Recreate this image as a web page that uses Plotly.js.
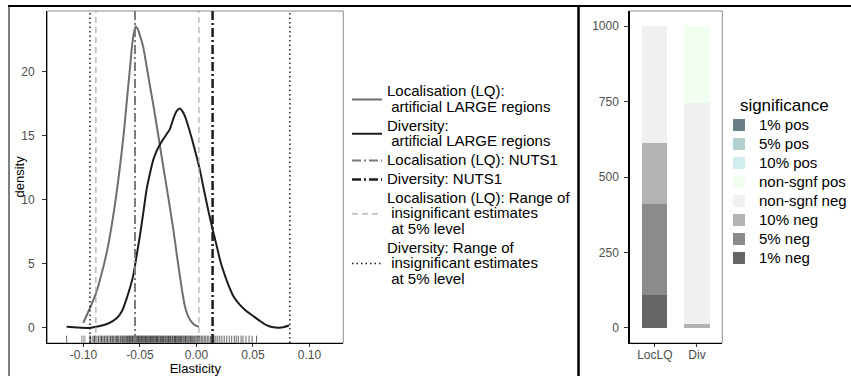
<!DOCTYPE html>
<html><head><meta charset="utf-8">
<script src="https://cdn.plot.ly/plotly-3.0.1.min.js"></script>
<style>html,body{margin:0;padding:0;background:#fff;}</style>
</head><body><div id="chart" style="width:851px;height:376px;"></div>
<script>
// ---- density of elasticities ----
const locX = [-0.1002,-0.0950,-0.0889,-0.0840,-0.0789,-0.0750,-0.0715,-0.0685,-0.0659,-0.0636,-0.0615,-0.0593,-0.0573,-0.0556,-0.0538,-0.0520,-0.0500,-0.0471,-0.0441,-0.0410,-0.0382,-0.0352,-0.0323,-0.0294,-0.0264,-0.0235,-0.0205,-0.0175,-0.0146,-0.0125,-0.0102,-0.0075,-0.0042,-0.0010,0.0022];
const locY = [0.4,1.4,2.7,4.2,6.1,8.0,10.0,12.0,13.9,15.8,17.8,19.8,21.7,22.9,23.5,23.3,22.8,21.9,20.4,18.8,17.4,15.8,14.2,12.6,11.0,9.4,7.7,5.8,4.0,2.8,1.7,0.95,0.45,0.2,0.1];
const divX = [-0.1149,-0.1050,-0.0950,-0.0854,-0.0780,-0.0706,-0.0660,-0.0633,-0.0596,-0.0559,-0.0530,-0.0500,-0.0470,-0.0441,-0.0410,-0.0382,-0.0352,-0.0323,-0.0294,-0.0264,-0.0235,-0.0205,-0.0175,-0.0146,-0.0125,-0.0102,-0.0072,-0.0042,0.0000,0.0031,0.0068,0.0104,0.0143,0.0179,0.0215,0.0252,0.0290,0.0326,0.0385,0.0444,0.0500,0.0562,0.0620,0.0680,0.0750,0.0821];
const divY = [0.1,0.03,0.0,0.15,0.35,0.75,1.3,1.9,2.9,4.1,5.6,7.2,9.0,10.8,12.1,13.1,13.8,14.3,14.7,15.1,15.5,16.3,16.9,17.1,16.9,16.5,15.7,14.8,13.4,12.3,10.7,9.2,7.7,6.4,5.1,4.1,3.2,2.5,1.8,1.3,0.95,0.55,0.22,0.05,0.03,0.2];

// rug values (estimated from the rug band)
const locRug = [-0.1016,-0.1002,-0.0987,-0.0942,-0.0935,-0.0921,-0.0912,-0.0903,-0.0894,-0.0885,-0.0871,-0.0862,-0.0850,-0.0843,-0.0831,-0.0822,-0.0810,-0.0801,-0.0793,-0.0782,-0.0774,-0.0765,-0.0751,-0.0744,-0.0735,-0.0726,-0.0714,-0.0706,-0.0698,-0.0689,-0.0677,-0.0668,-0.0659,-0.0651,-0.0642,-0.0633,-0.0625,-0.0616,-0.0608,-0.0601,-0.0593,-0.0585,-0.0577,-0.0570,-0.0563,-0.0556,-0.0549,-0.0542,-0.0535,-0.0528,-0.0521,-0.0514,-0.0507,-0.0499,-0.0491,-0.0483,-0.0475,-0.0466,-0.0457,-0.0448,-0.0439,-0.0430,-0.0420,-0.0410,-0.0400,-0.0389,-0.0378,-0.0367,-0.0355,-0.0343,-0.0331,-0.0318,-0.0305,-0.0291,-0.0276,-0.0261,-0.0246,-0.0230,-0.0213,-0.0196,-0.0185,-0.0172,-0.0160,-0.0147,-0.0131,-0.0112,-0.0095,-0.0074,-0.0048,-0.0031,0.0008,0.0026];
const divRug = [-0.1149,-0.0942,-0.0901,-0.0868,-0.0840,-0.0812,-0.0788,-0.0761,-0.0739,-0.0712,-0.0695,-0.0674,-0.0656,-0.0641,-0.0623,-0.0608,-0.0594,-0.0580,-0.0566,-0.0551,-0.0539,-0.0526,-0.0512,-0.0500,-0.0488,-0.0475,-0.0463,-0.0451,-0.0440,-0.0429,-0.0418,-0.0407,-0.0396,-0.0385,-0.0375,-0.0364,-0.0353,-0.0343,-0.0332,-0.0321,-0.0311,-0.0300,-0.0290,-0.0279,-0.0269,-0.0258,-0.0248,-0.0237,-0.0227,-0.0216,-0.0206,-0.0195,-0.0184,-0.0174,-0.0163,-0.0152,-0.0141,-0.0130,-0.0119,-0.0108,-0.0097,-0.0086,-0.0075,-0.0064,-0.0053,-0.0041,-0.0030,-0.0018,-0.0006,0.0006,0.0018,0.0030,0.0043,0.0056,0.0069,0.0082,0.0096,0.0110,0.0125,0.0140,0.0156,0.0172,0.0189,0.0207,0.0226,0.0246,0.0268,0.0290,0.0312,0.0335,0.0352,0.0371,0.0395,0.0412,0.0438,0.0466,0.0493,0.0532];

// reference lines
const locNuts1 = -0.0544;
const divNuts1 = 0.0143;
const locRange = [-0.0890, 0.0022];
const divRange = [-0.0942, 0.0827];

const seriesNames = [
  'Localisation (LQ):<br>\u00a0artificial LARGE regions',
  'Diversity:<br>\u00a0artificial LARGE regions',
  'Localisation (LQ): NUTS1',
  'Diversity: NUTS1',
  'Localisation (LQ): Range of<br>\u00a0insignificant estimates<br>\u00a0at 5% level',
  'Diversity: Range of<br>\u00a0insignificant estimates<br>\u00a0at 5% level'
];

// ---- significance counts ----
const barCats = ['LocLQ', 'Div'];
const sigLevels = ['1% neg','5% neg','10% neg','non-sgnf neg','non-sgnf pos','10% pos','5% pos','1% pos'];
const locCounts = [110, 300, 203, 387, 0, 0, 0, 0];
const divCounts = [0, 0, 13, 732, 255, 0, 0, 0];
const sigColors = ['#666666','#8b8b8b','#b3b3b3','#f0f0f0','#f0fff0','#d1eeee','#b4cfcf','#6c7f88'];

const X1RANGE = [-0.132, 0.130];
const Y1RANGE = [-1.17, 24.7];
const FONT = 'Liberation Sans, Arial, sans-serif';

function big(t, sz){ return t.split('<br>').map(s => '<span style="font-size:'+sz+'px">'+s+'</span>').join('<br>'); }
function vline(xs){ const X=[],Y=[]; xs.forEach((v,i)=>{ if(i) {X.push(null);Y.push(null);} X.push(v,v); Y.push(Y1RANGE[0],Y1RANGE[1]); }); return {x:X,y:Y}; }

const traces = [];
// rugs
traces.push({type:'scatter', mode:'markers', x:locRug, y:locRug.map(()=>Y1RANGE[0]+0.3), xaxis:'x', yaxis:'y',
  marker:{symbol:'line-ns-open', size:5, color:'rgba(110,110,110,0.7)', line:{width:1}}, showlegend:false, hoverinfo:'skip'});
traces.push({type:'scatter', mode:'markers', x:divRug, y:divRug.map(()=>Y1RANGE[0]+0.3), xaxis:'x', yaxis:'y',
  marker:{symbol:'line-ns-open', size:5, color:'rgba(20,20,20,0.65)', line:{width:1}}, showlegend:false, hoverinfo:'skip'});
// curves
traces.push({type:'scatter', mode:'lines', x:locX, y:locY, name:big(seriesNames[0],15), legend:'legend',
  line:{color:'#6e6e6e', width:2, shape:'spline', smoothing:0.6}});
traces.push({type:'scatter', mode:'lines', x:divX, y:divY, name:big(seriesNames[1],15), legend:'legend',
  line:{color:'#1c1c1c', width:2, shape:'spline', smoothing:0.6}});
let v;
v = vline([locNuts1]);
traces.push({type:'scatter', mode:'lines', x:v.x, y:v.y, name:big(seriesNames[2],15), legend:'legend',
  line:{color:'#7a7a7a', width:2, dash:'9px,3px,2px,3px'}});
v = vline([divNuts1]);
traces.push({type:'scatter', mode:'lines', x:v.x, y:v.y, name:big(seriesNames[3],15), legend:'legend',
  line:{color:'#1c1c1c', width:2.5, dash:'9px,3px,2px,3px'}});
v = vline(locRange);
traces.push({type:'scatter', mode:'lines', x:v.x, y:v.y, name:big(seriesNames[4],15), legend:'legend',
  line:{color:'#aaaaaa', width:1.2, dash:'6px,4px'}});
v = vline(divRange);
traces.push({type:'scatter', mode:'lines', x:v.x, y:v.y, name:big(seriesNames[5],15), legend:'legend',
  line:{color:'#1c1c1c', width:1.5, dash:'1.5px,3px'}});
// bars
sigLevels.forEach((lev,i)=>{
  traces.push({type:'bar', x:barCats, y:[locCounts[i], divCounts[i]], name:big(lev,15), width:0.6,
    marker:{color:sigColors[i], line:{width:0}}, xaxis:'x2', yaxis:'y2', legend:'legend2'});
});

const W=851, H=376;
const yDom = [1-343/H, 1-11/H];
const axisCommon = {showgrid:false, zeroline:false, showline:true, linecolor:'#000', linewidth:1.2,
  ticks:'outside', ticklen:4, tickcolor:'#333', tickwidth:1, tickfont:{family:FONT, size:12, color:'#4d4d4d'}};

const layout = {
  width:W, height:H, margin:{l:0,r:0,t:0,b:0, autoexpand:false},
  paper_bgcolor:'#fff', plot_bgcolor:'#fff', barmode:'stack', bargap:0,
  font:{family:FONT, color:'#000'},
  xaxis:Object.assign({}, axisCommon, {domain:[47.3/W, 343.3/W], range:X1RANGE, anchor:'y', ticklen:3, ticklabelstandoff:-3,
    automargin:true,
    tickvals:[-0.10,-0.05,0,0.05,0.10], ticktext:['-0.10','-0.05','0.00','0.05','0.10'],
    title:{text:'Elasticity', font:{family:FONT, size:13, color:'#000'}, standoff:2}}),
  yaxis:Object.assign({}, axisCommon, {domain:yDom, range:Y1RANGE, anchor:'x', ticklabelstandoff:5,
    tickvals:[0,5,10,15,20]}),
  xaxis2:Object.assign({}, axisCommon, {domain:[629.5/W, 722.3/W], range:[-0.6,1.6], anchor:'y2', type:'category', ticklen:3, ticklabelstandoff:-3}),
  yaxis2:Object.assign({}, axisCommon, {domain:yDom, range:[-50,1050], anchor:'x2', ticklabelstandoff:3, tickvals:[0,250,500,750,1000]}),
  annotations:[
    {text:'density', xref:'paper', yref:'paper', x:18.5/W, y:1-177/H, xanchor:'center', yanchor:'middle',
     textangle:-90, showarrow:false, font:{family:FONT, size:13, color:'#000'}}
  ],
  legend:{x:347/W, xanchor:'left', y:1-186/H, yanchor:'middle', bgcolor:'rgba(0,0,0,0)',
    font:{family:FONT, size:12, color:'#000'}, traceorder:'normal', tracegroupgap:0},
  legend2:{x:719/W, xanchor:'left', y:1-181/H, yanchor:'middle', bgcolor:'rgba(0,0,0,0)',
    font:{family:FONT, size:12, color:'#000'}, traceorder:'reversed',
    title:{text:'\u00a0\u00a0\u00a0\u00a0significance', font:{family:FONT, size:17, color:'#000'}}},
  shapes:[
    {type:'rect', xref:'x domain', yref:'y domain', x0:0, x1:1, y0:0, y1:1, line:{color:'#8c8c8c', width:1}, layer:'below'},
    {type:'rect', xref:'x2 domain', yref:'y2 domain', x0:0, x1:1, y0:0, y1:1, line:{color:'#8c8c8c', width:1}, layer:'below'},
    {type:'line', xref:'paper', yref:'paper', x0:8/W, x1:1, y0:1-6/H, y1:1-6/H, line:{color:'#000', width:2}},
    {type:'line', xref:'paper', yref:'paper', x0:9/W, x1:9/W, y0:0, y1:1-6/H, line:{color:'#000', width:1}},
    {type:'line', xref:'paper', yref:'paper', x0:578.5/W, x1:578.5/W, y0:0, y1:1-6/H, line:{color:'#000', width:2.5}}
  ]
};
Plotly.newPlot('chart', traces, layout, {displayModeBar:false, staticPlot:true});
</script></body></html>
